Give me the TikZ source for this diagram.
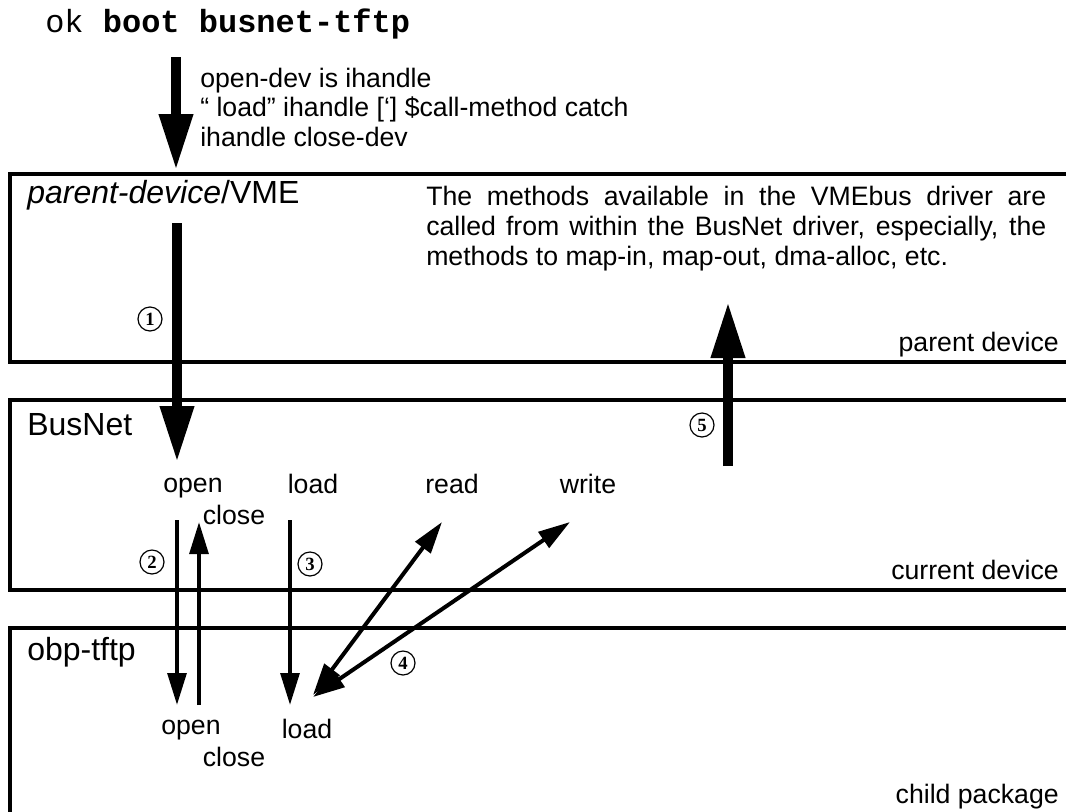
\documentclass[tikz,border=0pt]{standalone}
\usepackage{fontspec}
\setmainfont{Liberation Sans}
\setmonofont{Liberation Mono}
\newfontfamily\numfont{Liberation Serif}
\usetikzlibrary{arrows.meta}
\usetikzlibrary{positioning}

\tikzset{
  layer/.style={line width=3pt},
  title/.style={anchor=west,font=\fontsize{24}{24}\selectfont},
  bigarrow/.style={line width=7.5pt,-{Triangle[width=24pt,length=42pt]}},
  thinarrow/.style={line width=3pt,-{Triangle[width=14pt,length=24pt]}},
  bothway/.style={line width=3pt,{Triangle[width=14pt,length=24pt]}-{Triangle[width=14pt,length=24pt]}},
  numtag/.style={circle,draw,line width=0.9pt,inner sep=0pt,minimum size=18pt,
    font=\fontsize{14}{14}\selectfont\numfont\bfseries},
}

\begin{document}
\begin{tikzpicture}[x=0.75pt,y=-0.75pt,every node/.style={inner sep=0pt,font=\fontsize{20}{21}\selectfont}]
  \useasboundingbox (0,0) rectangle (1066,811);
  \clip (0,0) rectangle (1066,811);

  % the three layers, open to the right
  \draw[layer] (10,174) rectangle (1100,362);
  \draw[layer] (10,400) rectangle (1100,590);
  \draw[layer] (10,628) rectangle (1100,840);

  \node[anchor=base west,font=\fontsize{24}{24}\selectfont\ttfamily] (cmd) at (45,32) {ok \textbf{boot busnet-tftp}};
  \node[anchor=north west,align=left,font=\fontsize{20}{22}\selectfont] (calls) at (200,68)
    {open-dev is ihandle\\“ load” ihandle [‘] \$call-method catch\\ihandle close-dev};

  \node[title] (vme) at (27,195) {\textit{parent-device}/VME};
  \node[title] (busnet) at (27,425) {BusNet};
  \node[title] (obp) at (27,652) {obp-tftp};

  \node[anchor=east] (pdev) at (1059,345) {parent device};
  \node[anchor=east] (cdev) at (1059,570) {current device};
  \node[anchor=east] (cpkg) at (1059,797) {child package};

  \node[anchor=north west,text width=465pt,align=justify,font=\fontsize{20}{22.5}\selectfont] (note) at (426,186)
    {The methods available in the VMEbus driver are\linebreak called from within the BusNet driver, especially, the\linebreak methods to map-in, map-out, dma-alloc, etc.};

  % methods of BusNet
  \node (open) at (193,488) {open};
  \node (close) at (234,515) {close};
  \node (load) at (313,484) {load};
  \node (read) at (452,484) {read};
  \node (write) at (588,484) {write};
  % methods of obp-tftp
  \node (open2) at (191,730) {open};
  \node (close2) at (234,757) {close};
  \node (load2) at (307,729) {load};

  \node[numtag] (n1) at (150,319) {1};
  \node[numtag] (n2) at (152,562) {2};
  \node[numtag] (n3) at (310,564) {3};
  \node[numtag] (n4) at (403,663) {4};
  \node[numtag] (n5) at (702,425) {5};

  \coordinate (c0) at (176,57);
  \coordinate (c1) at (176,170);
  \coordinate (p0) at (177,223);
  \coordinate (p1) at (177,462);
  \coordinate (u0) at (728,466);
  \coordinate (u1) at (728,302);
  \coordinate (o0) at (177,520);
  \coordinate (o1) at (177,705);
  \coordinate (k0) at (199,705);
  \coordinate (k1) at (199,522);
  \coordinate (l0) at (290,520);
  \coordinate (l1) at (290,705);
  \coordinate (r0) at (313,695);
  \coordinate (r1) at (442,522);
  \coordinate (w0) at (313,697);
  \coordinate (w1) at (570,522);

  \draw[bigarrow](c0)--(c1);
  \draw[bigarrow](p0)--(p1);
  \draw[bigarrow](u0)--(u1);
  \draw[thinarrow](o0)--(o1);
  \draw[thinarrow](k0)--(k1);
  \draw[thinarrow](l0)--(l1);
  \draw[bothway](r0)--(r1);
  \draw[bothway](w0)--(w1);
\end{tikzpicture}
\end{document}
